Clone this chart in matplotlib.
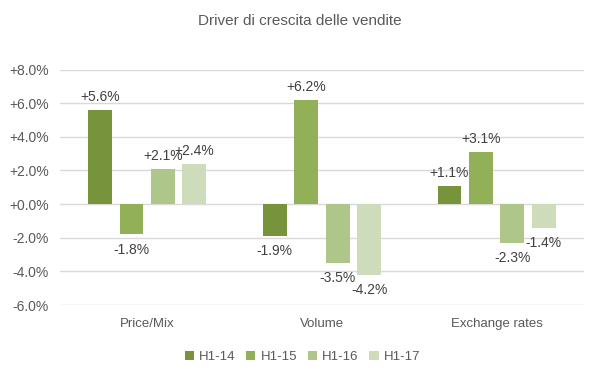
import matplotlib
matplotlib.use("Agg")
import matplotlib.pyplot as plt
import numpy as np

categories = ["Price/Mix", "Volume", "Exchange rates"]
series = ["H1-14", "H1-15", "H1-16", "H1-17"]
h1_14 = [5.6, -1.9, 1.1]
h1_15 = [-1.8, 6.2, 3.1]
h1_16 = [2.1, -3.5, -2.3]
h1_17 = [2.4, -4.2, -1.4]
yticks = [-6, -4, -2, 0, 2, 4, 6, 8]

values = [h1_14, h1_15, h1_16, h1_17]
colors = ["#77933C", "#92B057", "#AFC68A", "#CFDCBB"]

plt.rcParams['font.family'] = ['Liberation Sans', 'DejaVu Sans']
fig = plt.figure(figsize=(5.99, 3.78), dpi=100)
ax = fig.add_axes([0.100, 0.193, 0.875, 0.623])

x = np.arange(len(categories))
step = 0.18
width = 0.137
for i, (name, vals, c) in enumerate(zip(series, values, colors)):
    pos = x + (i - 1.5) * step
    ax.bar(pos, vals, width=width, color=c, label=name, zorder=3)
    for p, v in zip(pos, vals):
        txt = f"{v:+.1f}%"
        if v >= 0:
            ax.annotate(txt, (p, v), xytext=(0, 4), textcoords="offset points",
                        ha="center", va="bottom", fontsize=10, color="#404040")
        else:
            ax.annotate(txt, (p, v), xytext=(0, -6), textcoords="offset points",
                        ha="center", va="top", fontsize=10, color="#404040")

ax.set_xlim(-0.5, 2.5)
ax.set_ylim(-6, 8)
ax.set_yticks(yticks)
ax.set_yticklabels([f"{t:+.1f}%" for t in yticks], fontsize=10, color="#595959")
ax.set_xticks(x)
ax.set_xticklabels(categories, fontsize=9.5, color="#595959")
ax.tick_params(axis="x", length=0, pad=9)
ax.tick_params(axis="y", length=0, pad=8)
ax.grid(axis="y", color="#D9D9D9", linewidth=1, zorder=0)
for s in ax.spines.values():
    s.set_visible(False)

fig.text(0.5, 0.945, "Driver di crescita delle vendite", ha="center", va="center",
         fontsize=11, color="#595959", fontstretch="condensed")

leg = fig.legend(loc="center", bbox_to_anchor=(0.505, 0.055), ncol=4, frameon=False,
                 fontsize=9.5, handlelength=0.7, handleheight=0.7, handletextpad=0.4,
                 columnspacing=0.8)
for t in leg.get_texts():
    t.set_color("#595959")

fig.savefig("out.png", dpi=100)
